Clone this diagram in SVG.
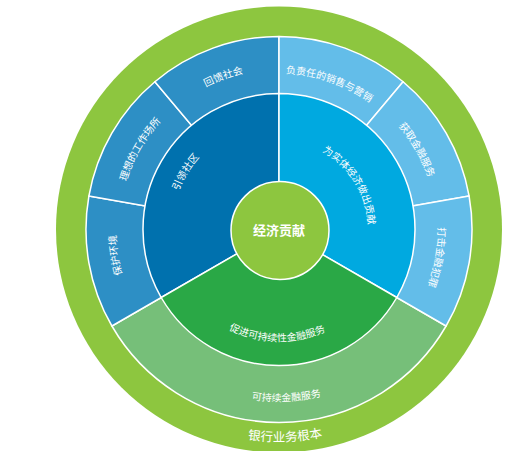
<svg xmlns="http://www.w3.org/2000/svg" width="525" height="451" viewBox="0 0 525 451">
<style>
.seg{stroke:#ffffff;stroke-width:1.5;stroke-linejoin:round}
.t{font-family:"Noto Sans CJK SC","Noto Sans",sans-serif;fill:#ffffff;font-size:10px}
.big{font-size:12.5px}
.ctr{font-size:13px;font-weight:bold}
</style>
<defs>
<path id="p1" d="M140.4,149.5 A160,160 0 0 1 333.7,79.1"/>
<path id="p2" d="M121.4,257.3 A160,160 0 0 1 224.3,79.1"/>
<path id="p3" d="M172.1,352.5 A163,163 0 0 1 139.3,145.6"/>
<path id="p4" d="M223.1,83.9 A156,156 0 0 1 412.7,149.2"/>
<path id="p5" d="M333.0,81.0 A158,158 0 0 1 434.6,256.9"/>
<path id="p6" d="M416.7,150.0 A159,159 0 0 1 381.2,351.3"/>
<path id="p7" d="M172.7,245.2 A107.5,107.5 0 0 1 245.1,127.5"/>
<path id="p8" d="M275.9,140.6 A89,89 0 0 1 357.6,271.3"/>
<path id="p9" d="M192.0,300.0 A112,112 0 0 0 363.5,303.0"/>
<path id="p10" d="M152.2,345.7 A172,172 0 0 0 415.5,334.2"/>
<path id="p11" d="M147.6,395.9 A212,212 0 0 0 420.0,387.8"/>
</defs>
<g id="base">
<circle cx="279" cy="229.5" r="223" fill="#8dc63f"/>
<text class="t big"><textPath href="#p11" startOffset="50%" text-anchor="middle">银行业务根本</textPath></text>
</g>
<g id="outer-sustainable">
<path class="seg" fill="#76bf79" d="M279,229.5 L446.1,326 A193,193 0 0 1 111.9,326 Z"/>
<text class="t"><textPath href="#p10" startOffset="50%" text-anchor="middle">可持续金融服务</textPath></text>
</g>
<g id="outer-environment">
<path class="seg" fill="#2d8fc5" d="M279,229.5 L111.9,326 A193,193 0 0 1 88.9,196 Z"/>
<text class="t"><textPath href="#p3" startOffset="50%" text-anchor="middle">保护环境</textPath></text>
</g>
<g id="outer-workplace">
<path class="seg" fill="#2d8fc5" d="M279,229.5 L88.9,196 A193,193 0 0 1 154.9,81.7 Z"/>
<text class="t"><textPath href="#p2" startOffset="50%" text-anchor="middle">理想的工作场所</textPath></text>
</g>
<g id="outer-society">
<path class="seg" fill="#2d8fc5" d="M279,229.5 L154.9,81.7 A193,193 0 0 1 279,36.5 Z"/>
<text class="t"><textPath href="#p1" startOffset="50%" text-anchor="middle">回馈社会</textPath></text>
</g>
<g id="outer-sales">
<path class="seg" fill="#63bde9" d="M279,229.5 L279,36.5 A193,193 0 0 1 403.1,81.7 Z"/>
<text class="t"><textPath href="#p4" startOffset="50%" text-anchor="middle">负责任的销售与营销</textPath></text>
</g>
<g id="outer-access">
<path class="seg" fill="#63bde9" d="M279,229.5 L403.1,81.7 A193,193 0 0 1 469.1,196 Z"/>
<text class="t"><textPath href="#p5" startOffset="50%" text-anchor="middle">获取金融服务</textPath></text>
</g>
<g id="outer-crime">
<path class="seg" fill="#63bde9" d="M279,229.5 L469.1,196 A193,193 0 0 1 446.1,326 Z"/>
<text class="t"><textPath href="#p6" startOffset="50%" text-anchor="middle">打击金融犯罪</textPath></text>
</g>
<g id="inner-community">
<path class="seg" fill="#0071ae" d="M279,229.5 L161.2,297.5 A136,136 0 0 1 279,93.5 Z"/>
<text class="t"><textPath href="#p7" startOffset="50%" text-anchor="middle">引领社区</textPath></text>
</g>
<g id="inner-economy">
<path class="seg" fill="#00a9e0" d="M279,229.5 L279,93.5 A136,136 0 0 1 396.8,297.5 Z"/>
<text class="t"><textPath href="#p8" startOffset="50%" text-anchor="middle">为实体经济做出贡献</textPath></text>
</g>
<g id="inner-sustainable">
<path class="seg" fill="#2aa846" d="M279,229.5 L396.8,297.5 A136,136 0 0 1 161.2,297.5 Z"/>
<text class="t"><textPath href="#p9" startOffset="50%" text-anchor="middle">促进可持续性金融服务</textPath></text>
</g>
<g id="center">
<circle class="seg" cx="280" cy="230.5" r="49" fill="#8dc63f"/>
<text class="t ctr" x="279" y="235" text-anchor="middle">经济贡献</text>
</g>
<g id="connectors"/>
</svg>
